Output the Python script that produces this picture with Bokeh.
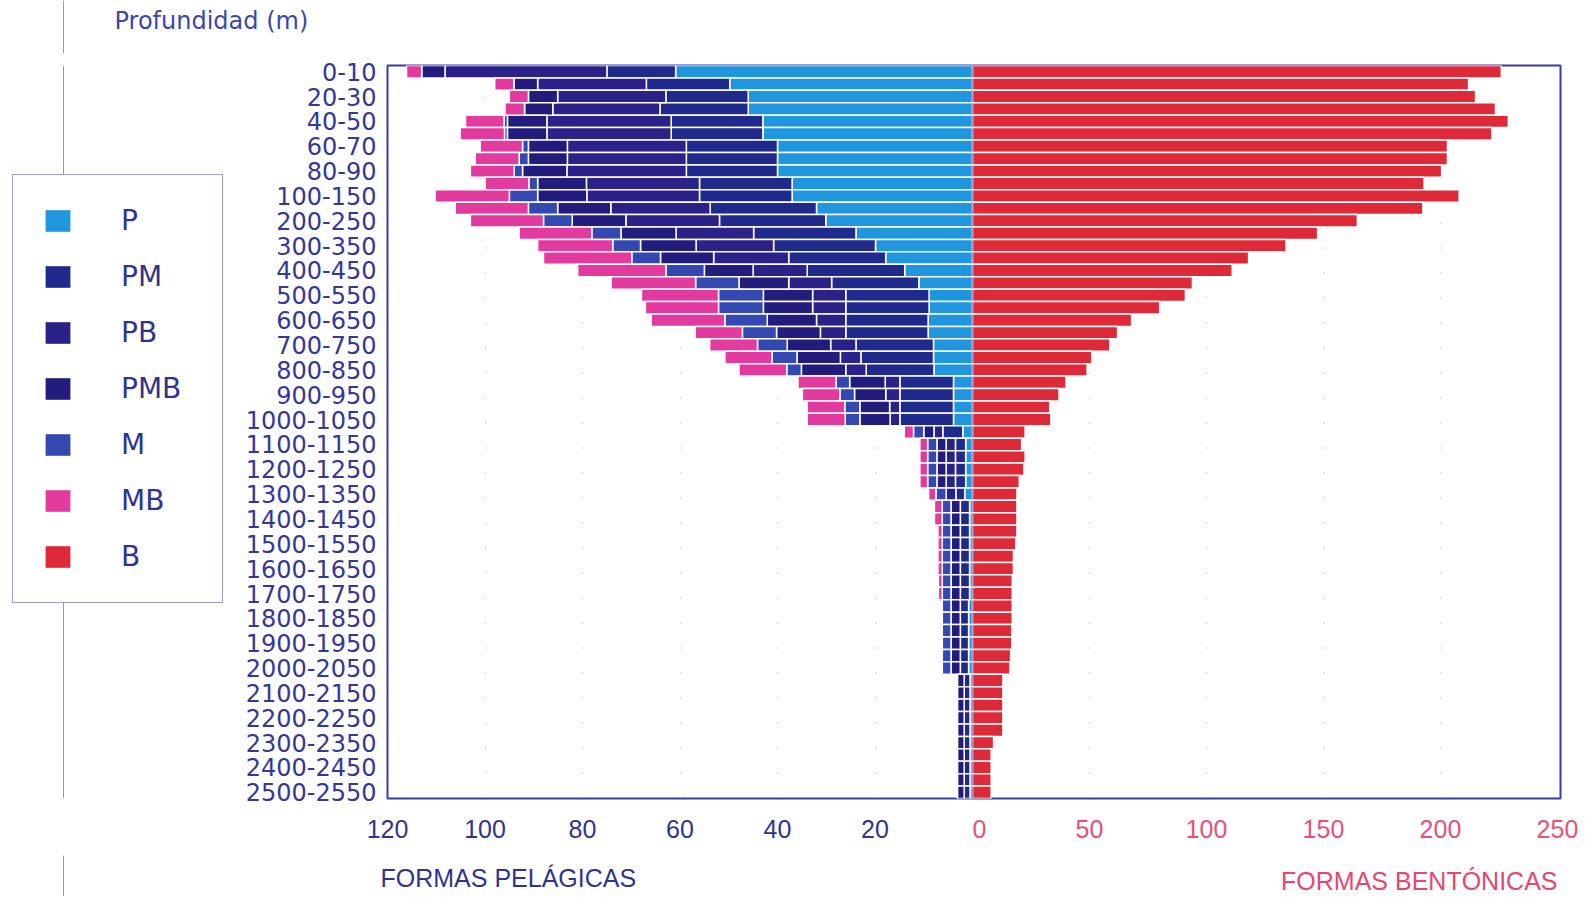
from bokeh.plotting import figure
from bokeh.layouts import row, column
from bokeh.models import (ColumnDataSource, FactorRange, Range1d, FixedTicker,
                          Legend, LegendItem, Label, Span, CustomJSTickFormatter)
from bokeh.embed import file_html
from bokeh.resources import INLINE

# ---------------- data ----------------
depths = ["0-10", "10-20", "20-30", "30-40", "40-50", "50-60", "60-70", "70-80", "80-90", "90-100",
          "100-150", "150-200", "200-250", "250-300", "300-350", "350-400", "400-450", "450-500",
          "500-550", "550-600", "600-650", "650-700", "700-750", "750-800", "800-850", "850-900",
          "900-950", "950-1000", "1000-1050", "1050-1100", "1100-1150", "1150-1200", "1200-1250",
          "1250-1300", "1300-1350", "1350-1400", "1400-1450", "1450-1500", "1500-1550", "1550-1600",
          "1600-1650", "1650-1700", "1700-1750", "1750-1800", "1800-1850", "1850-1900", "1900-1950",
          "1950-2000", "2000-2050", "2050-2100", "2100-2150", "2150-2200", "2200-2250", "2250-2300",
          "2300-2350", "2350-2400", "2400-2450", "2450-2500", "2500-2550"]

P = [60.9, 49.8, 46.0, 46.0, 43.0, 43.0, 40.0, 40.0, 40.0, 37.0,
     37.0, 32.0, 30.1, 23.9, 19.9, 17.8, 13.9, 11.0, 8.9, 8.9,
     9.1, 9.1, 8.0, 8.0, 7.9, 3.9, 3.9, 3.9, 3.9, 2.0,
     1.4, 1.4, 1.4, 1.4, 1.6, 0.6, 0.6, 0.6, 0.6, 0.6,
     0.6, 0.6, 0.6, 0.8, 0.8, 0.8, 0.8, 0.8, 0.8, 0.5,
     0.5, 0.5, 0.5, 0.5, 0.5, 0.5, 0.5, 0.5, 0.5]
PM = [14.1, 17.1, 16.9, 18.1, 18.8, 18.8, 18.7, 18.7, 18.7, 19.0,
      19.0, 21.8, 21.8, 21.0, 20.9, 19.9, 20.0, 17.9, 17.1, 17.1,
      16.9, 16.9, 15.9, 14.9, 13.9, 11.0, 11.0, 11.0, 11.0, 4.1,
      2.1, 2.1, 2.1, 2.1, 1.8, 1.9, 1.9, 1.9, 1.9, 1.9,
      1.9, 1.9, 1.9, 1.7, 1.7, 1.7, 1.7, 1.7, 1.7, 1.2,
      1.2, 1.2, 1.2, 1.2, 1.2, 1.2, 1.2, 1.2, 1.2]
PB = [33.2, 22.3, 22.2, 22.0, 25.5, 25.5, 24.4, 24.4, 24.5, 23.2,
      23.1, 20.4, 19.2, 15.9, 15.9, 15.4, 11.1, 8.8, 6.8, 6.8,
      6.0, 5.2, 5.2, 4.2, 4.2, 3.0, 2.9, 2.1, 2.0, 1.8,
      1.9, 1.9, 1.9, 1.9, 2.0, 0, 0, 0, 0, 0,
      0, 0, 0, 0, 0, 0, 0, 0, 0, 0,
      0, 0, 0, 0, 0, 0, 0, 0, 0]
PMB = [4.8, 4.9, 6.0, 5.8, 8.1, 8.1, 8.0, 8.0, 9.1, 10.0,
       10.1, 10.9, 11.0, 11.3, 11.4, 10.9, 10.0, 10.2, 10.1, 10.1,
       10.1, 9.0, 8.9, 8.9, 9.1, 7.3, 6.4, 6.1, 6.2, 2.1,
       1.9, 1.9, 1.9, 1.9, 0, 1.9, 1.9, 1.9, 1.9, 1.9,
       1.9, 1.9, 1.9, 1.9, 1.9, 1.9, 1.9, 1.9, 1.9, 1.4,
       1.4, 1.4, 1.4, 1.4, 1.4, 1.4, 1.4, 1.4, 1.4]
M = [0, 0, 0, 0, 0.7, 0.6, 1.2, 1.9, 1.7, 1.8,
     5.8, 6.0, 5.9, 6.0, 5.7, 5.9, 7.9, 8.9, 9.2, 9.2,
     8.7, 7.0, 6.1, 5.1, 3.0, 2.8, 3.0, 3.1, 3.0, 2.1,
     1.9, 1.9, 1.9, 1.9, 2.1, 1.8, 1.8, 1.8, 1.8, 1.8,
     1.8, 1.8, 1.8, 1.8, 1.8, 1.8, 1.8, 1.8, 1.8, 0,
     0, 0, 0, 0, 0, 0, 0, 0, 0]
MB = [3.1, 3.9, 3.9, 4.0, 7.9, 9.1, 8.7, 9.0, 9.0, 9.0,
      15.2, 15.0, 15.0, 14.9, 15.4, 18.1, 18.1, 17.3, 15.8, 15.0,
      15.1, 9.7, 9.8, 9.7, 9.8, 7.8, 7.7, 7.7, 7.8, 1.9,
      1.6, 1.6, 1.6, 1.6, 1.5, 1.6, 1.6, 0.9, 0.9, 0.9,
      0.9, 0.8, 0.8, 0, 0, 0, 0, 0, 0, 0,
      0, 0, 0, 0, 0, 0, 0, 0, 0]
B = [226, 212, 215, 223.5, 229, 222, 203, 203, 200.5, 193,
     208, 192.5, 164.5, 147.5, 134, 118, 111, 94, 91, 80,
     68, 62, 58.7, 51, 49, 40, 37, 33, 33.5, 22.5,
     21, 22.5, 22, 20, 19, 19, 19, 19, 18.5, 17.5,
     17.5, 17, 17, 17, 17, 16.8, 16.8, 16.3, 16, 13,
     13, 13, 13, 13, 9, 8, 8, 8, 8]

pel_series = ["P", "PM", "PB", "PMB", "M", "MB"]
pel_ticks = [20, 40, 60, 80, 100, 120]
ben_ticks = [0, 50, 100, 150, 200, 250]

# ---------------- style ----------------
pel_colors = ["#1f96de", "#1f2a8c", "#2a2288", "#221d7d", "#3448b2", "#e23a9e"]
B_color = "#de2a38"
navy = "#2f3391"
pink = "#e8507a"
frame_col = "#3b3ba8"
scan_col = "#9096c8"

W_TOTAL = 1584
TOP_H, TOP_PAD, FRAME_H, AXIS_H, BOT_H = 53, 12, 733, 57, 41
ROW_H = TOP_PAD + FRAME_H + AXIS_H
FRAME_TOP = TOP_H + TOP_PAD          # canvas y of the plot frame top
LEG_W, LEFT_W = 238, 734

src = ColumnDataSource(dict(depth=depths, P=P, PM=PM, PB=PB, PMB=PMB, M=M, MB=MB, B=B))
yr = FactorRange(factors=depths[::-1], range_padding=0)


def blank(width, height, y_range=None):
    f = figure(width=width, height=height, x_range=Range1d(0, width),
               y_range=y_range if y_range is not None else Range1d(0, height),
               output_backend="svg", toolbar_location=None, title=None,
               x_axis_location=None, y_axis_location=None,
               min_border_left=0, min_border_right=0, min_border_top=0, min_border_bottom=0)
    f.outline_line_color = None
    f.grid.visible = False
    return f


# ---------------- top strip ----------------
top = blank(W_TOTAL, TOP_H)
top.add_layout(Span(location=63, dimension="height", line_color=scan_col, line_width=1))
top.add_layout(Label(x=114, y=TOP_H - 20, text="Profundidad (m)", text_font="DejaVu Sans",
                     text_font_size="24px", text_color="#3a46ac", text_baseline="middle",
                     text_align="left"))

# ---------------- legend strip ----------------
leg = blank(LEG_W, ROW_H, y_range=yr)
leg.min_border_top = TOP_PAD
leg.min_border_bottom = AXIS_H
leg.add_layout(Span(location=63, dimension="height", line_color=scan_col, line_width=1))
leg_renderers = [leg.hbar(y="depth", left=0, right=0, height=1, fill_color=c, line_color=None,
                          source=src) for c in pel_colors + [B_color]]
items = [LegendItem(label=s, renderers=[r]) for s, r in zip(pel_series + ["B"], leg_renderers)]
legend = Legend(items=items, location=(12, FRAME_H - (603 - FRAME_TOP)), padding=29, margin=0,
                spacing=23, glyph_width=31, glyph_height=27, label_height=27, label_width=72,
                label_standoff=48, label_text_font="DejaVu Sans", label_text_font_size="28px",
                label_text_color=navy, border_line_color=frame_col, border_line_width=1.5,
                background_fill_color="white", background_fill_alpha=1.0)
leg.add_layout(legend)

common = dict(height=ROW_H, y_range=yr, output_backend="svg", toolbar_location=None,
              min_border_top=TOP_PAD, min_border_bottom=AXIS_H, title=None)

# ---------------- left: pelagic ----------------
left = figure(width=LEFT_W, x_range=Range1d(120, 0), min_border_left=LEFT_W - 585,
              min_border_right=0, **common)
rs = left.hbar_stack(pel_series, y="depth", height=1.0, fill_color=pel_colors,
                     line_color="white", line_width=1.5, source=src)
left.outline_line_color = frame_col
left.outline_line_width = 2
left.xaxis.ticker = FixedTicker(ticks=pel_ticks)
left.xgrid.ticker = FixedTicker(ticks=pel_ticks[:-1])
left.xaxis.major_label_text_color = navy
left.xaxis.major_label_text_font = "Liberation Sans"
left.xaxis.major_label_text_font_size = "25px"
left.xaxis.major_label_standoff = 21
left.xaxis.major_tick_in = 0
left.xaxis.major_tick_out = 0
left.xaxis.minor_tick_line_color = None
left.xaxis.axis_line_color = None
left.xgrid.grid_line_color = "#b0b0b0"
left.xgrid.grid_line_dash = "1 24"
left.ygrid.grid_line_color = None

left.yaxis.formatter = CustomJSTickFormatter(code="return (index % 2 == 0) ? tick : '';")
left.yaxis.major_label_text_font = "DejaVu Sans"
left.yaxis.major_label_text_font_size = "24px"
left.yaxis.major_label_text_color = "#35379a"
left.yaxis.major_tick_line_color = None
left.yaxis.axis_line_color = None
left.yaxis.major_label_standoff = 5

# ---------------- right: benthic ----------------
RIGHT_W = W_TOTAL - LEG_W - LEFT_W
right = figure(width=RIGHT_W, x_range=Range1d(0, 251.3), y_axis_location=None,
               min_border_left=0, min_border_right=RIGHT_W - 588, **common)
right.hbar(y="depth", right="B", height=1.0, fill_color=B_color, line_color="white",
           line_width=1.5, source=src)
right.outline_line_color = frame_col
right.outline_line_width = 2
right.xaxis.ticker = FixedTicker(ticks=ben_ticks)
right.xgrid.ticker = FixedTicker(ticks=ben_ticks[1:-1])
right.xaxis.major_label_text_color = pink
right.xaxis.major_label_text_font = "Liberation Sans"
right.xaxis.major_label_text_font_size = "25px"
right.xaxis.major_label_standoff = 21
right.xaxis.major_tick_in = 0
right.xaxis.major_tick_out = 0
right.xaxis.minor_tick_line_color = None
right.xaxis.axis_line_color = None
right.xgrid.grid_line_color = "#b0b0b0"
right.xgrid.grid_line_dash = "1 24"
right.ygrid.grid_line_color = None

# ---------------- bottom strip ----------------
bot = blank(W_TOTAL, BOT_H)
bot.add_layout(Span(location=63, dimension="height", line_color=scan_col, line_width=1))
bot.add_layout(Label(x=380, y=BOT_H - 22, text="FORMAS PELÁGICAS", text_font="Liberation Sans",
                     text_font_size="25px", text_color=navy, text_baseline="middle",
                     text_align="left"))
bot.add_layout(Label(x=1557, y=BOT_H - 25, text="FORMAS BENTÓNICAS", text_font="Liberation Sans",
                     text_font_size="25px", text_color="#e8466e", text_baseline="middle",
                     text_align="right"))

layout = column(top, row(leg, left, right, spacing=0), bot, spacing=0)
open("out.html", "w").write(file_html(layout, INLINE))
